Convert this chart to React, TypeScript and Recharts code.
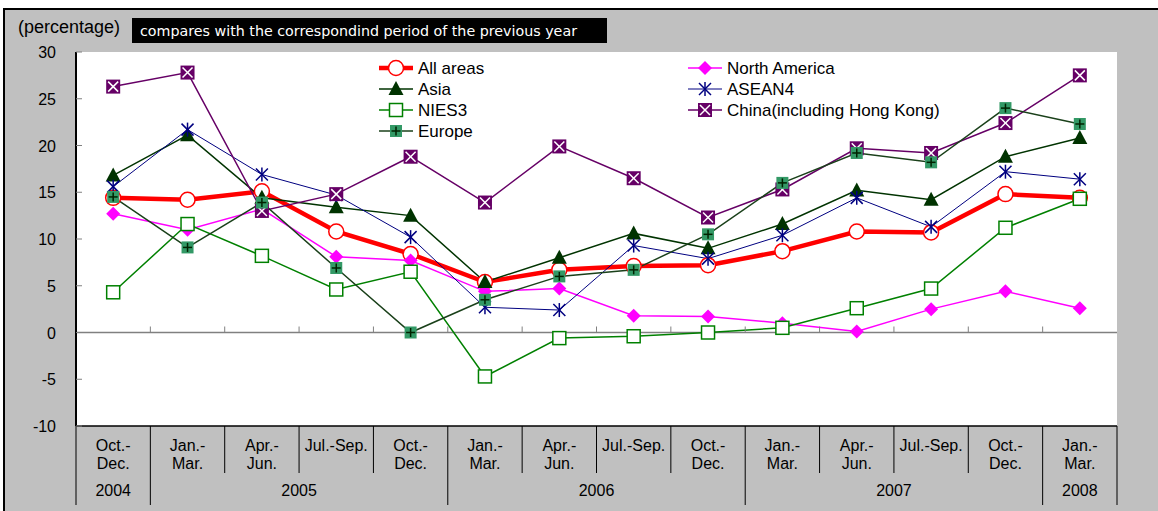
import { LineChart, Line, XAxis, YAxis, CartesianGrid, ReferenceLine, Legend } from "recharts";

const quarters = [
  "Oct.-\nDec.", "Jan.-\nMar.", "Apr.-\nJun.", "Jul.-Sep.", "Oct.-\nDec.",
  "Jan.-\nMar.", "Apr.-\nJun.", "Jul.-Sep.", "Oct.-\nDec.",
  "Jan.-\nMar.", "Apr.-\nJun.", "Jul.-Sep.", "Oct.-\nDec.", "Jan.-\nMar.",
];
const years = [
  "2004", "2005", "2005", "2005", "2005", "2006", "2006", "2006", "2006",
  "2007", "2007", "2007", "2007", "2008",
];

const allAreas = [14.4, 14.2, 15.1, 10.8, 8.4, 5.4, 6.7, 7.1, 7.2, 8.7, 10.8, 10.7, 14.8, 14.4];
const northAmerica = [12.7, 11.0, 13.2, 8.1, 7.7, 4.4, 4.7, 1.8, 1.7, 1.0, 0.1, 2.5, 4.4, 2.6];
const asia = [16.8, 21.1, 14.4, 13.4, 12.5, 5.4, 8.0, 10.6, 9.0, 11.6, 15.2, 14.2, 18.8, 20.8];
const asean4 = [15.6, 21.7, 16.9, 14.7, 10.2, 2.7, 2.4, 9.3, 7.9, 10.4, 14.4, 11.3, 17.2, 16.4];
const nies3 = [4.3, 11.6, 8.2, 4.6, 6.5, -4.7, -0.6, -0.4, 0.0, 0.5, 2.6, 4.7, 11.2, 14.3];
const china = [26.3, 27.8, 13.0, 14.8, 18.8, 13.9, 19.9, 16.5, 12.3, 15.3, 19.7, 19.2, 22.4, 27.5];
const europe = [14.5, 9.1, 13.9, 6.9, 0.0, 3.5, 6.0, 6.7, 10.5, 16.0, 19.2, 18.2, 24.0, 22.3];

const yTicks = [-10, -5, 0, 5, 10, 15, 20, 25, 30];

const SERIES = [
  { key: "all", name: "All areas", values: allAreas, color: "#ff0000", width: 4.5, shape: "circle" },
  { key: "na", name: "North America", values: northAmerica, color: "#ff00ff", width: 1.5, shape: "diamond" },
  { key: "asia", name: "Asia", values: asia, color: "#003300", width: 1.5, shape: "triangle" },
  { key: "asean", name: "ASEAN4", values: asean4, color: "#000080", width: 1, shape: "star" },
  { key: "nies", name: "NIES3", values: nies3, color: "#008000", width: 1.5, shape: "square" },
  { key: "china", name: "China(including Hong Kong)", values: china, color: "#660066", width: 1.5, shape: "boxx" },
  { key: "europe", name: "Europe", values: europe, color: "#1a401a", width: 1.5, shape: "plus" },
];

const data = quarters.map((_, i) => {
  const row: Record<string, number> = { idx: i };
  SERIES.forEach((s) => (row[s.key] = s.values[i]));
  return row;
});

// layout
const W = 1158;
const H = 511;
const PLOT_LEFT = 76;
const PLOT_TOP = 52;
const PLOT_RIGHT = 1117;
const PLOT_BOTTOM = 426;
const PLOT_W = PLOT_RIGHT - PLOT_LEFT;
const PLOT_H = PLOT_BOTTOM - PLOT_TOP;
const BAND = PLOT_W / quarters.length;
const Y_MIN = -10;
const Y_MAX = 30;
const ZERO_UP = (PLOT_H * (0 - Y_MIN)) / (Y_MAX - Y_MIN);
const FONT = "'Liberation Sans', Arial, sans-serif";

const Marker = ({ shape, cx, cy, color }: { shape: string; cx: number; cy: number; color: string }) => {
  switch (shape) {
    case "circle":
      return <circle cx={cx} cy={cy} r={7.5} fill="#fff" stroke={color} strokeWidth={1.5} />;
    case "diamond":
      return <polygon points={`${cx},${cy - 7} ${cx + 7},${cy} ${cx},${cy + 7} ${cx - 7},${cy}`} fill={color} />;
    case "triangle":
      return <polygon points={`${cx},${cy - 8} ${cx + 7.5},${cy + 6} ${cx - 7.5},${cy + 6}`} fill={color} />;
    case "star":
      return (
        <g stroke={color} strokeWidth={1.5}>
          <line x1={cx - 6} y1={cy - 6} x2={cx + 6} y2={cy + 6} />
          <line x1={cx - 6} y1={cy + 6} x2={cx + 6} y2={cy - 6} />
          <line x1={cx} y1={cy - 7} x2={cx} y2={cy + 7} />
        </g>
      );
    case "square":
      return <rect x={cx - 6.5} y={cy - 6.5} width={13} height={13} fill="#fff" stroke={color} strokeWidth={1.5} />;
    case "boxx":
      return (
        <g>
          <rect x={cx - 7} y={cy - 7} width={14} height={14} fill={color} />
          <line x1={cx - 5} y1={cy - 5} x2={cx + 5} y2={cy + 5} stroke="#fff" strokeWidth={1.5} />
          <line x1={cx - 5} y1={cy + 5} x2={cx + 5} y2={cy - 5} stroke="#fff" strokeWidth={1.5} />
        </g>
      );
    case "plus":
      return (
        <g>
          <rect x={cx - 6} y={cy - 6} width={12} height={12} fill="#339966" />
          <line x1={cx - 4.5} y1={cy} x2={cx + 4.5} y2={cy} stroke="#002200" strokeWidth={1.5} />
          <line x1={cx} y1={cy - 4.5} x2={cx} y2={cy + 4.5} stroke="#002200" strokeWidth={1.5} />
        </g>
      );
    default:
      return null;
  }
};

const QuarterTick = (props: any) => {
  const { x, y, payload } = props;
  const i = Number(payload.value);
  const half = BAND / 2;
  const n = quarters.length;
  const yearStart = i === 0 || years[i] !== years[i - 1];
  let span = 1;
  while (i + span < n && years[i + span] === years[i]) span++;
  const lines = quarters[i].split("\n");
  return (
    <g fontFamily={FONT} fontSize={16} fill="#000">
      {lines.map((t, k) => (
        <text key={k} x={x} y={y + 25 + k * 18} textAnchor="middle">
          {t}
        </text>
      ))}
      <line x1={x - half} x2={x - half} y1={y} y2={y + (yearStart ? 79 : 47)} stroke="#000" />
      {i === n - 1 && <line x1={x + half} x2={x + half} y1={y} y2={y + 79} stroke="#000" />}
      {i > 0 && (
        <line x1={x - half} x2={x - half} y1={y - ZERO_UP - 6} y2={y - ZERO_UP} stroke="#808080" />
      )}
      {yearStart && (
        <text x={x + (span - 1) * half} y={y + 70} textAnchor="middle">
          {years[i]}
        </text>
      )}
    </g>
  );
};

const ValueTick = (props: any) => {
  const { x, y, payload } = props;
  return (
    <g>
      <text x={x} y={y + 6} textAnchor="end" fontFamily={FONT} fontSize={16} fill="#000">
        {payload.value}
      </text>
      <line x1={x + 20} x2={x + 26} y1={y} y2={y} stroke="#808080" />
    </g>
  );
};

const LegendBox = () => (
  <svg width={600} height={90} style={{ display: "block" }}>
    {SERIES.map((s, i) => {
      const col = i % 2;
      const row = Math.floor(i / 2);
      const x0 = col === 0 ? 9 : 318;
      const cy = 12 + row * 21;
      return (
        <g key={s.key}>
          <line x1={x0} x2={x0 + 34} y1={cy} y2={cy} stroke={s.color} strokeWidth={s.width} />
          <Marker shape={s.shape} cx={x0 + 17} cy={cy} color={s.color} />
          <text x={x0 + 39} y={cy + 6} fontFamily={FONT} fontSize={17} fill="#000">
            {s.name}
          </text>
        </g>
      );
    })}
  </svg>
);

export default function App() {
  return (
    <div style={{ position: "absolute", left: 0, top: 0, width: W, height: H, overflow: "hidden" }}>
      <div
        style={{
          position: "absolute",
          left: 3,
          top: 8,
          width: W - 3,
          height: H - 8,
          boxSizing: "border-box",
          background: "#c0c0c0",
          borderLeft: "2px solid #000",
          borderTop: "2px solid #000",
        }}
      />
      <div style={{ position: "absolute", left: 0, top: 0 }}>
        <LineChart
          width={W}
          height={H}
          data={data}
          margin={{ top: PLOT_TOP, right: W - PLOT_RIGHT, bottom: 0, left: 0 }}
        >
          <CartesianGrid horizontal={false} vertical={false} fill="#fff" fillOpacity={1} />
          <XAxis
            dataKey="idx"
            type="category"
            padding={{ left: BAND / 2, right: BAND / 2 }}
            height={H - PLOT_BOTTOM}
            interval={0}
            tickSize={0}
            tickMargin={0}
            tickLine={false}
            axisLine={{ stroke: "#000", strokeWidth: 1.5 }}
            tick={<QuarterTick />}
          />
          <XAxis
            xAxisId="top"
            dataKey="idx"
            orientation="top"
            height={0}
            tick={false}
            tickLine={false}
            axisLine={{ stroke: "#000", strokeWidth: 2 }}
          />
          <YAxis
            domain={[Y_MIN, Y_MAX]}
            ticks={yTicks}
            interval={0}
            width={PLOT_LEFT}
            tickSize={0}
            tickMargin={20}
            tickLine={false}
            axisLine={{ stroke: "#000", strokeWidth: 2 }}
            tick={<ValueTick />}
          />
          <YAxis
            yAxisId="right"
            orientation="right"
            domain={[Y_MIN, Y_MAX]}
            width={0}
            tick={false}
            tickLine={false}
            axisLine={{ stroke: "#000", strokeWidth: 1.5 }}
          />
          <ReferenceLine y={0} stroke="#808080" strokeWidth={1.5} />
          <Legend
            layout="horizontal"
            verticalAlign="middle"
            align="center"
            wrapperStyle={{ left: 370, top: 56, width: 600, height: 90 }}
            content={() => <LegendBox />}
          />
          {SERIES.map((s) => (
            <Line
              key={s.key}
              type="linear"
              dataKey={s.key}
              name={s.name}
              stroke={s.color}
              strokeWidth={s.width}
              isAnimationActive={false}
              activeDot={false}
              dot={(p: any) => (
                <Marker key={`${s.key}-${p.index}`} shape={s.shape} cx={p.cx} cy={p.cy} color={s.color} />
              )}
            />
          ))}
        </LineChart>
      </div>
      <svg width={W} height={50} style={{ position: "absolute", left: 0, top: 0 }}>
        <text x={18} y={33} fontFamily={FONT} fontSize={18} fill="#000">
          (percentage)
        </text>
        <rect x={132} y={18} width={475} height={25} fill="#000" />
        <text
          x={140}
          y={36}
          fontFamily="'DejaVu Sans', Verdana, sans-serif"
          fontSize={14}
          fill="#fff"
          textLength={437}
          lengthAdjust="spacingAndGlyphs"
        >
          compares with the correspondind period of the previous year
        </text>
      </svg>
    </div>
  );
}
